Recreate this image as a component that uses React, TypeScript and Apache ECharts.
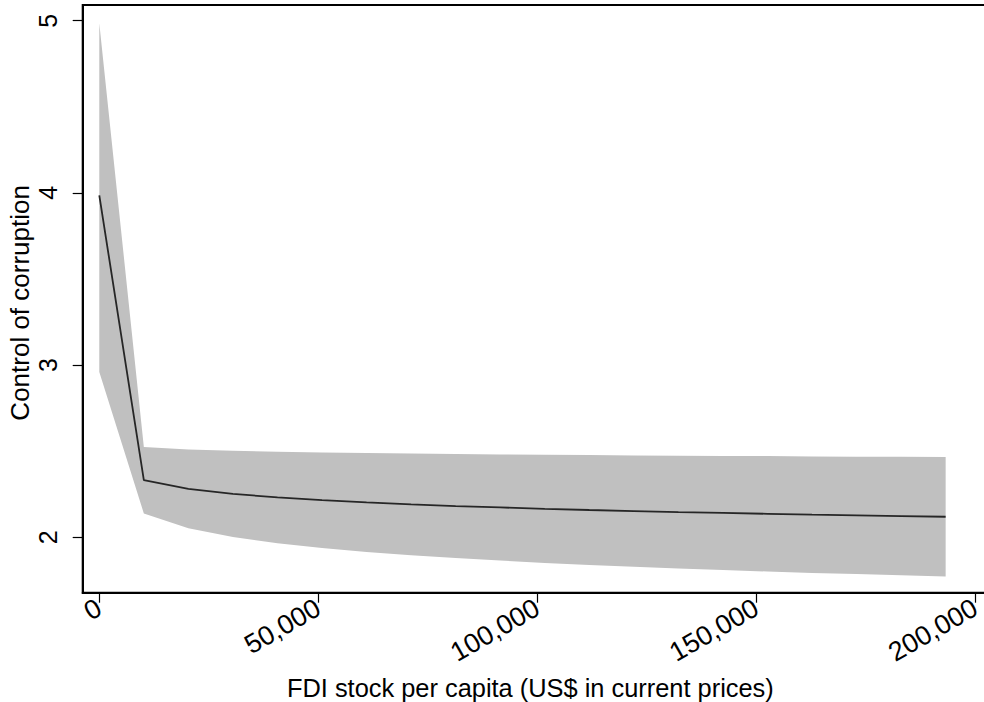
import React, { useEffect, useRef } from "react";
import * as echarts from "echarts";

const xValues = [
  0, 10170, 20340, 30510, 40680, 50850, 61020, 71190, 81360, 91530, 101700,
  111870, 122040, 132210, 142380, 152550, 162720, 172890, 183060, 193230,
];
const predicted = [
  3.986, 2.332, 2.282, 2.253, 2.232, 2.216, 2.203, 2.192, 2.182, 2.174, 2.166,
  2.159, 2.153, 2.147, 2.142, 2.137, 2.132, 2.128, 2.124, 2.12,
];
const upperCI = [
  4.985, 2.525, 2.511, 2.503, 2.498, 2.493, 2.49, 2.487, 2.484, 2.482, 2.48,
  2.478, 2.476, 2.474, 2.473, 2.472, 2.47, 2.469, 2.468, 2.467,
];
const lowerCI = [
  2.96, 2.139, 2.053, 2.003, 1.966, 1.939, 1.916, 1.897, 1.88, 1.866, 1.852,
  1.84, 1.83, 1.82, 1.811, 1.802, 1.794, 1.787, 1.78, 1.773,
];
const xTickValues = [0, 50000, 100000, 150000, 200000];
const xTickLabels = ["0", "50,000", "100,000", "150,000", "200,000"];
const yTickValues = [2, 3, 4, 5];
const yTickLabels = ["2", "3", "4", "5"];

const FONT = "Liberation Sans, Arial, sans-serif";

export default function App() {
  const ref = useRef<HTMLDivElement>(null);
  useEffect(() => {
    if (!ref.current) return;
    const chart = echarts.init(ref.current, null, { renderer: "svg" });
    chart.setOption({
      animation: false,
      backgroundColor: "#ffffff",
      grid: {
        left: 82.7,
        top: 5,
        width: 905.3,
        height: 587.7,
        containLabel: false,
        outerBoundsMode: "none",
        show: true,
        borderColor: "#000000",
        borderWidth: 2,
        backgroundColor: "transparent",
      },
      xAxis: {
        type: "value",
        min: -3790,
        max: 202900,
        splitLine: { show: false },
        axisLine: { show: true, onZero: false, lineStyle: { color: "#000", width: 2 } },
        axisTick: {
          show: true,
          length: 10,
          customValues: xTickValues,
          lineStyle: { color: "#000", width: 1.2 },
        },
        axisLabel: {
          customValues: xTickValues,
          rotate: 30,
          margin: 13,
          color: "#000",
          fontFamily: FONT,
          fontSize: 27,
          formatter: (v: number) => {
            const i = xTickValues.indexOf(v);
            return i >= 0 ? xTickLabels[i] : "";
          },
        },
        name: "FDI stock per capita (US$ in current prices)",
        nameLocation: "middle",
        nameGap: 83,
        nameTextStyle: {
          color: "#000",
          fontFamily: FONT,
          fontSize: 25.4,
          padding: [0, 10, 0, 0],
        },
      },
      yAxis: {
        type: "value",
        min: 1.679,
        max: 5.091,
        splitLine: { show: false },
        axisLine: { show: true, onZero: false, lineStyle: { color: "#000", width: 2 } },
        axisTick: {
          show: true,
          length: 10,
          customValues: yTickValues,
          lineStyle: { color: "#000", width: 1.2 },
        },
        axisLabel: {
          customValues: yTickValues,
          rotate: 90,
          margin: 22,
          color: "#000",
          fontFamily: FONT,
          fontSize: 25,
          formatter: (v: number) => {
            const i = yTickValues.indexOf(v);
            return i >= 0 ? yTickLabels[i] : "";
          },
        },
        name: "Control of corruption",
        nameLocation: "middle",
        nameGap: 50,
        nameMoveOverlap: false,
        nameTextStyle: {
          color: "#000",
          fontFamily: FONT,
          fontSize: 26,
          padding: [0, 8, 0, 0],
        },
      },
      series: [
        {
          type: "custom",
          silent: true,
          z: 1,
          data: [[0, 0]],
          renderItem: (_params: any, api: any) => {
            const pts: number[][] = [];
            for (let i = 0; i < xValues.length; i++) {
              pts.push(api.coord([xValues[i], upperCI[i]]));
            }
            for (let i = xValues.length - 1; i >= 0; i--) {
              pts.push(api.coord([xValues[i], lowerCI[i]]));
            }
            return {
              type: "polygon",
              shape: { points: pts },
              style: { fill: "#c0c0c0", stroke: "none" },
            };
          },
        },
        {
          type: "line",
          symbol: "none",
          silent: true,
          data: xValues.map((x, i) => [x, predicted[i]]),
          lineStyle: { color: "#262626", width: 1.8 },
          z: 3,
        },
      ],
    });
    return () => chart.dispose();
  }, []);
  return (
    <div
      ref={ref}
      style={{ position: "fixed", left: 0, top: 0, width: 984, height: 702 }}
    />
  );
}
